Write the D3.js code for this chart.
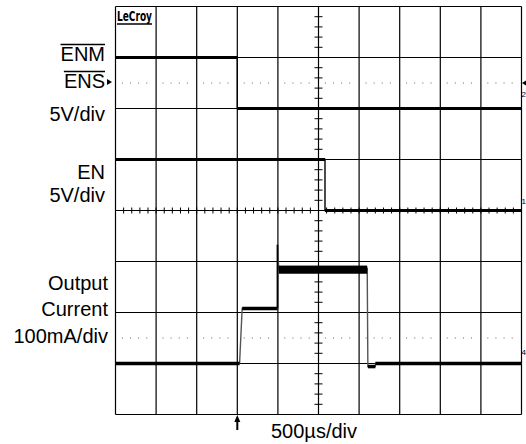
<!DOCTYPE html>
<html><head><meta charset="utf-8">
<script src="https://cdn.jsdelivr.net/npm/d3@7"></script>
<style>
html,body{margin:0;padding:0;background:#fff;}
svg{display:block;font-family:"Liberation Sans",Arial,sans-serif;}
</style></head>
<body>
<svg id="c" width="526" height="444"></svg>
<script>
// ---- data ----
const timePerDivUs = 500;
const xDivisions = [0,1,2,3,4,5,6,7,8,9,10];
const yDivisions = [-4,-3,-2,-1,0,1,2,3,4];
const dottedLevels = [2.5, -2.5];          // divisions
// ENM/ENS trace (5V/div, zero level at +2 div)
const enmTimeUs = [0, 1500, 1500, 5000];
const enmVolts  = [5, 5, 0, 0];
const enmOffsetDiv = 2, enmVoltsPerDiv = 5;
// EN trace (5V/div, zero level at 0 div)
const enTimeUs = [0, 2580, 2580, 5000];
const enVolts  = [5, 5, 0, 0];
const enOffsetDiv = 0, enVoltsPerDiv = 5;
// Output current (100mA/div, zero level at -3 div)
const curTimeUs = [0, 1528, 1560, 1995, 1995, 2010, 3100, 3108, 3200, 3200, 5000];
const curMa     = [0, 0, 108, 108, 233, 186, 186, -6, -6, 0, 0];
const curOffsetDiv = -3, curMaPerDiv = 100;
const curBandTimeUs = [2010, 3100];
const curBandMa = [176, 192];
const leftLabels = [
  {t:"ENM", bar:true, y:61},
  {t:"ENS", bar:true, y:88, arrow:true},
  {t:"5V/div", y:121},
  {t:"EN", y:179},
  {t:"5V/div", y:202},
  {t:"Output", y:290, r:108},
  {t:"Current", y:316, r:108},
  {t:"100mA/div", y:343, r:108}
];
const timeLabel = "500µs/div";
const channelMarks = [{t:"2", y:2.3}, {t:"1", y:0.2}, {t:"4", y:-2.75}];

// ---- scales ----
const svg = d3.select("#c");
const x = d3.scaleLinear().domain([0, 10*timePerDivUs]).range([115.5, 521.5]);
const y = d3.scaleLinear().domain([-4, 4]).range([414.5, 6.5]);

// grid
const g = svg.append("g");
g.selectAll("line.v").data(xDivisions).enter().append("line")
  .attr("x1", d=>x(d*timePerDivUs)).attr("x2", d=>x(d*timePerDivUs))
  .attr("y1", y(4)).attr("y2", y(-4)).attr("stroke","#000").attr("stroke-width",1.2);
g.selectAll("line.h").data(yDivisions).enter().append("line")
  .attr("y1", d=>y(d)).attr("y2", d=>y(d))
  .attr("x1", x(0)).attr("x2", x(5000)).attr("stroke","#000").attr("stroke-width",1.2);

// minor ticks on centre axes
const vt = d3.range(-4, 4.001, 0.2);
g.selectAll("line.vt").data(vt).enter().append("line")
  .attr("x1", x(2500)-4).attr("x2", x(2500)+4)
  .attr("y1", d=>y(d)).attr("y2", d=>y(d)).attr("stroke","#000").attr("stroke-width",1);
const ht = d3.range(0, 10.001, 0.2);
g.selectAll("line.ht").data(ht).enter().append("line")
  .attr("x1", d=>x(d*timePerDivUs)).attr("x2", d=>x(d*timePerDivUs))
  .attr("y1", y(0)-3).attr("y2", y(0)+3).attr("stroke","#000").attr("stroke-width",1);

// dotted reference lines
dottedLevels.forEach(lv=>{
  const pts = [];
  xDivisions.slice(0,10).forEach(i=>{ [0.2,0.4,0.6,0.8].forEach(k=>pts.push(i+k-0.03)); });
  g.selectAll(null).data(pts).enter().append("rect")
    .attr("x", d=>x(d*timePerDivUs)-0.5).attr("y", y(lv)-0.5)
    .attr("width",1).attr("height",1).attr("fill","#666");
});

// traces
function trace(times, vals, off, per, thick, thinColor){
  const pts = times.map((t,i)=>[x(t), y(off + vals[i]/per)]);
  const line = d3.line();
  svg.append("path").attr("d", line(pts)).attr("fill","none")
    .attr("stroke", thinColor).attr("stroke-width",1.4);
  for(let i=0;i<pts.length-1;i++){
    if(Math.abs(pts[i][1]-pts[i+1][1])<0.5 && pts[i+1][0]>pts[i][0]){
      svg.append("line").attr("x1",pts[i][0]).attr("x2",pts[i+1][0])
        .attr("y1",pts[i][1]).attr("y2",pts[i+1][1])
        .attr("stroke","#000").attr("stroke-width",thick);
    }
  }
}
trace(enmTimeUs, enmVolts, enmOffsetDiv, enmVoltsPerDiv, 3, "#000");
trace(enTimeUs, enVolts, enOffsetDiv, enVoltsPerDiv, 3, "#000");
trace(curTimeUs, curMa, curOffsetDiv, curMaPerDiv, 3.5, "#555");
// spike line darker
svg.append("line").attr("x1", x(1995)).attr("x2", x(1995))
  .attr("y1", y(curOffsetDiv+108/curMaPerDiv)).attr("y2", y(curOffsetDiv+233/curMaPerDiv))
  .attr("stroke","#000").attr("stroke-width",1.6);
// noisy band at high current level
svg.append("rect").attr("x", x(curBandTimeUs[0])).attr("width", x(curBandTimeUs[1])-x(curBandTimeUs[0]))
  .attr("y", y(curOffsetDiv+curBandMa[1]/curMaPerDiv))
  .attr("height", y(curOffsetDiv+curBandMa[0]/curMaPerDiv)-y(curOffsetDiv+curBandMa[1]/curMaPerDiv))
  .attr("fill","#000");

// LeCroy logo
svg.append("text").attr("x",117).attr("y",21).attr("font-family","'DejaVu Sans Condensed','DejaVu Sans',sans-serif")
  .attr("font-weight","bold").attr("font-size",13.5).attr("textLength",35).attr("lengthAdjust","spacingAndGlyphs")
  .text("LeCroy");
svg.append("line").attr("x1",117).attr("x2",152).attr("y1",24).attr("y2",24).attr("stroke","#000").attr("stroke-width",1.3);

// left labels
leftLabels.forEach(l=>{
  const r = l.r || 105;
  const t = svg.append("text").attr("x", r).attr("y", l.y).attr("text-anchor","end")
    .attr("font-size",20).attr("fill","#000").text(l.t);
  if(l.bar){
    const w = t.node().getComputedTextLength();
    svg.append("line").attr("x1", r-w).attr("x2", r).attr("y1", l.y-16.5).attr("y2", l.y-16.5)
      .attr("stroke","#000").attr("stroke-width",1.3);
  }
  if(l.arrow){
    svg.append("path").attr("d", `M${r+2},${l.y-9}L${r+7},${l.y-6}L${r+2},${l.y-3}Z`).attr("fill","#000");
  }
});

// right-edge channel markers
svg.append("path").attr("d",`M526,${y(2.5)-2.5}L522,${y(2.5)}L526,${y(2.5)+2.5}Z`).attr("fill","#000");
channelMarks.forEach(m=>{
  svg.append("text").attr("x",521.5).attr("y",y(m.y)+4).attr("font-size",8).attr("fill","#000").text(m.t);
});

// bottom
svg.append("line").attr("x1", x(1500)).attr("x2", x(1500)).attr("y1",420).attr("y2",430)
  .attr("stroke","#000").attr("stroke-width",2);
svg.append("path").attr("d", `M${x(1500)-3},${422}L${x(1500)},${415}L${x(1500)+3},${422}Z`).attr("fill","#000");
svg.append("text").attr("x",271).attr("y",438).attr("font-size",20).text(timeLabel);
</script>
</body></html>
